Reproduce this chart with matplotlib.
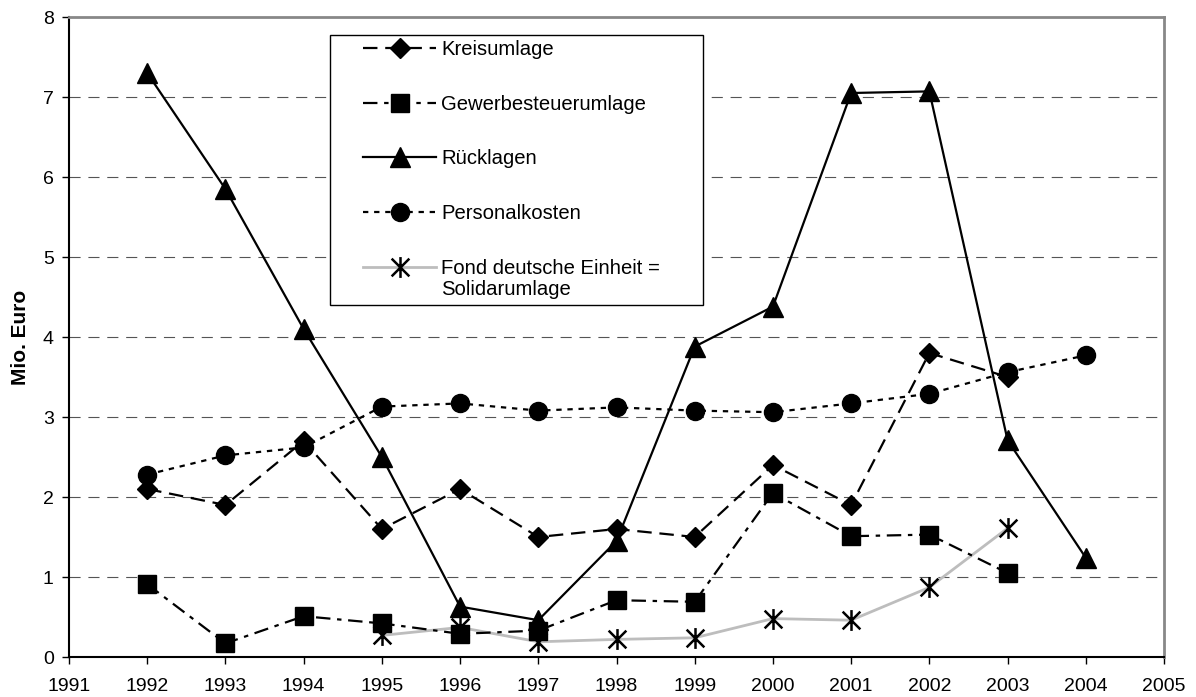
import matplotlib
matplotlib.use("Agg")
import matplotlib.pyplot as plt
from matplotlib.path import Path
from matplotlib.patches import Rectangle

plt.rcParams['font.family'] = ['Liberation Sans', 'DejaVu Sans']

years_k = [1992, 1993, 1994, 1995, 1996, 1997, 1998, 1999, 2000, 2001, 2002, 2003]
kreisumlage = [2.1, 1.9, 2.7, 1.6, 2.1, 1.5, 1.6, 1.5, 2.4, 1.9, 3.8, 3.5]

years_g = [1992, 1993, 1994, 1995, 1996, 1997, 1998, 1999, 2000, 2001, 2002, 2003]
gewerbe = [0.91, 0.17, 0.51, 0.42, 0.29, 0.33, 0.71, 0.69, 2.05, 1.51, 1.53, 1.05]

years_r = [1992, 1993, 1994, 1995, 1996, 1997, 1998, 1999, 2000, 2001, 2002, 2003, 2004]
ruecklagen = [7.3, 5.85, 4.1, 2.5, 0.63, 0.46, 1.45, 3.88, 4.38, 7.05, 7.07, 2.71, 1.24]

years_p = [1992, 1993, 1994, 1995, 1996, 1997, 1998, 1999, 2000, 2001, 2002, 2003, 2004]
personal = [2.28, 2.52, 2.62, 3.13, 3.17, 3.08, 3.12, 3.08, 3.06, 3.17, 3.29, 3.56, 3.77]

years_s = [1995, 1996, 1997, 1998, 1999, 2000, 2001, 2002, 2003]
solidar = [0.27, 0.37, 0.19, 0.22, 0.24, 0.48, 0.46, 0.87, 1.61]

labels = ["Kreisumlage", "Gewerbesteuerumlage", "Rücklagen", "Personalkosten",
          "Fond deutsche Einheit =", "Solidarumlage"]
x_ticks = list(range(1991, 2006))
y_ticks = list(range(0, 9))

star = Path([(0, -1), (0, 1), (-0.85, -0.85), (0.85, 0.85), (-0.85, 0.85), (0.85, -0.85)],
            [Path.MOVETO, Path.LINETO, Path.MOVETO, Path.LINETO, Path.MOVETO, Path.LINETO])

FS = 14
LFS = 14.6

fig = plt.figure(figsize=(11.96, 6.97), dpi=100)
ax = fig.add_axes([69/1196, 40/697, 1095/1196, 640/697])

for y in range(1, 8):
    ax.axhline(y, color='#555555', lw=0.8, linestyle=(0, (10, 7)), zorder=0)

l1, = ax.plot(years_k, kreisumlage, color='black', lw=1.6, dashes=(6.5, 3.5),
              marker='D', markersize=10.5, zorder=3)
l2, = ax.plot(years_g, gewerbe, color='black', lw=1.6, dashes=(6.5, 3, 2, 3),
              marker='s', markersize=13.5, zorder=3)
l3, = ax.plot(years_r, ruecklagen, color='black', lw=1.6, linestyle='-',
              marker='^', markersize=14, zorder=3)
l4, = ax.plot(years_p, personal, color='black', lw=1.6, dashes=(2.4, 2.6),
              marker='o', markersize=13, zorder=3)
l5, = ax.plot(years_s, solidar, color='#bdbdbd', lw=2.0, linestyle='-',
              marker=star, markersize=15, markeredgecolor='black', markeredgewidth=1.8,
              markerfacecolor='none', zorder=2)

ax.set_xlim(1991, 2005)
ax.set_ylim(0, 8)
ax.set_xticks(x_ticks)
ax.set_yticks(y_ticks)
ax.tick_params(axis='both', direction='out', length=5, width=1, labelsize=FS)
ax.tick_params(axis='x', pad=10)
ax.tick_params(axis='y', pad=6)
ax.set_ylabel("Mio. Euro", fontsize=15, fontweight='bold', labelpad=9)

for s in ['top', 'right']:
    ax.spines[s].set_color('#888888')
    ax.spines[s].set_linewidth(2)
for s in ['left', 'bottom']:
    ax.spines[s].set_color('black')
    ax.spines[s].set_linewidth(1.5)

# legend frame
ax.add_patch(Rectangle(((330-69)/1095, (657-305)/640), (703-330)/1095, (305-35)/640,
                       transform=ax.transAxes, facecolor='white', edgecolor='black',
                       lw=1, zorder=5))
leg = ax.legend([l1, l2, l3, l4, l5], labels[:5], loc='upper left',
                bbox_to_anchor=((363-69)/1095, (657-40)/640), frameon=False,
                fontsize=LFS, handlelength=3.6, handletextpad=0.25,
                labelspacing=1.76, borderpad=0, borderaxespad=0)
leg.set_zorder(6)

fig.canvas.draw()
t = leg.get_texts()[-1]
bb = t.get_window_extent()
inv = ax.transAxes.inverted()
x0, y0 = inv.transform((bb.x0, bb.y0))
ax.text(x0, y0 - 0.004, labels[5], transform=ax.transAxes, fontsize=LFS,
        ha='left', va='top', zorder=7)

fig.savefig("out.png", dpi=100)
